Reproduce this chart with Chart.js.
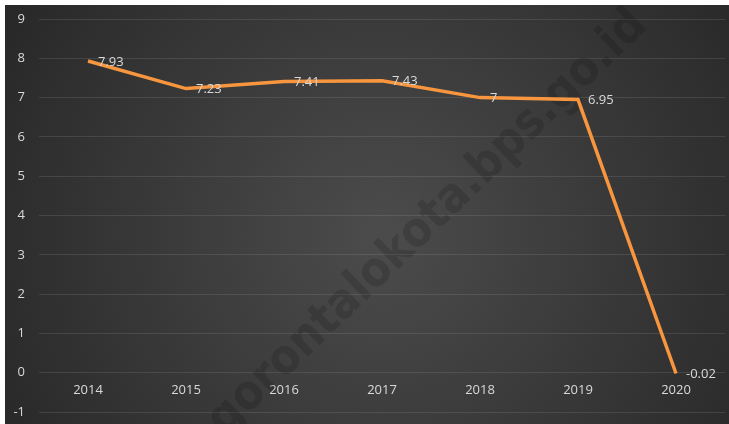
<!DOCTYPE html>
<html>
<head>
<meta charset="utf-8">
<script src="https://cdn.jsdelivr.net/npm/chart.js@4.4.1/dist/chart.umd.min.js"></script>
<style>
  html, body { margin: 0; padding: 0; background: #fff; }
  #wrap { position: absolute; left: 5px; top: 5px; width: 724px; height: 419px; }
</style>
</head>
<body>
<div id="wrap"><canvas id="line-chart"></canvas></div>
<script>
// data
var years = ['2014', '2015', '2016', '2017', '2018', '2019', '2020'];
var growth = [7.93, 7.23, 7.41, 7.43, 7, 6.95, -0.02];
var growthLabels = ['7.93', '7.23', '7.41', '7.43', '7', '6.95', '-0.02'];
var watermark = 'gorontalokota.bps.go.id';

var textColor = '#d9d9d9';
var font = { family: 'Open Sans', size: 13 };

// dark radial background
var bgPlugin = {
  id: 'bg',
  beforeDraw: function(chart) {
    var ctx = chart.ctx;
    var w = chart.width, h = chart.height;
    var g = ctx.createRadialGradient(w * 0.52, h * 0.55, 10, w * 0.52, h * 0.55, w * 0.62);
    g.addColorStop(0, '#4b4b4b');
    g.addColorStop(1, '#272727');
    ctx.save();
    ctx.fillStyle = g;
    ctx.fillRect(0, 0, w, h);
    ctx.restore();
  }
};

// faint diagonal watermark under the line
var wmPlugin = {
  id: 'wm',
  beforeDatasetsDraw: function(chart) {
    var ctx = chart.ctx;
    ctx.save();
    ctx.translate(423, 218);
    ctx.rotate(-44 * Math.PI / 180);
    ctx.font = 'bold 50px "DejaVu Sans Condensed"';
    var tw = ctx.measureText(watermark).width;
    var s = 590 / tw;
    ctx.scale(s, s);
    ctx.fillStyle = 'rgba(0,0,0,0.14)';
    ctx.textAlign = 'center';
    ctx.textBaseline = 'middle';
    ctx.fillText(watermark, 0, 0);
    ctx.restore();
  }
};

// value labels to the right of each point
var labelPlugin = {
  id: 'vlabels',
  afterDatasetsDraw: function(chart) {
    var ctx = chart.ctx;
    var meta = chart.getDatasetMeta(0);
    ctx.save();
    ctx.font = '13px "Open Sans"';
    ctx.fillStyle = textColor;
    ctx.textAlign = 'left';
    ctx.textBaseline = 'middle';
    meta.data.forEach(function(pt, i) {
      ctx.fillText(growthLabels[i], pt.x + 10, pt.y + 1);
    });
    ctx.restore();
  }
};

var chart = new Chart(document.getElementById('line-chart'), {
  type: 'line',
  data: {
    labels: years,
    datasets: [{
      data: growth,
      borderColor: '#f7963e',
      borderWidth: 3.5,
      pointRadius: 0,
      tension: 0,
      fill: false
    }]
  },
  options: {
    responsive: true,
    maintainAspectRatio: false,
    animation: false,
    layout: { padding: { top: 14, bottom: 12, right: 4, left: 0 } },
    plugins: {
      legend: { display: false },
      tooltip: { enabled: false }
    },
    scales: {
      x: {
        position: { y: 0 },
        offset: true,
        grid: { display: false, drawTicks: false },
        border: { display: false },
        ticks: { color: textColor, font: font, padding: 10, maxRotation: 0 }
      },
      y: {
        min: -1,
        max: 9,
        grid: { color: 'rgba(255,255,255,0.1)', lineWidth: 1, drawTicks: true, tickLength: 10, tickColor: 'rgba(0,0,0,0)' },
        border: { display: false },
        ticks: { color: textColor, font: font, padding: 4, stepSize: 1 },
        afterFit: function(scale) { scale.width = 34; }
      }
    }
  },
  plugins: [bgPlugin, wmPlugin, labelPlugin]
});
</script>
</body>
</html>
